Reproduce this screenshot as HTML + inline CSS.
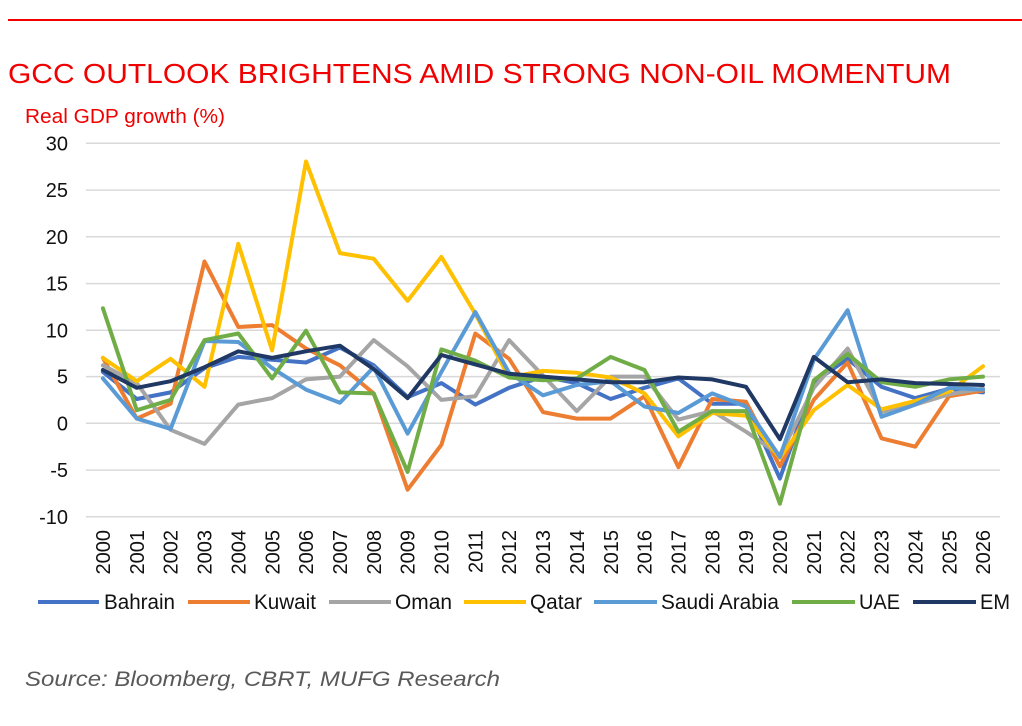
<!DOCTYPE html>
<html>
<head>
<meta charset="utf-8">
<style>
  html, body { margin:0; padding:0; background:#fff; }
  body { width:1022px; height:726px; overflow:hidden; }
  svg { display:block; }
  text { font-family: "Liberation Sans", Arial, sans-serif; }
</style>
</head>
<body>
<svg id="c" width="1022" height="726" viewBox="0 0 1022 726" xmlns="http://www.w3.org/2000/svg">
  <rect x="0" y="0" width="1022" height="726" fill="#ffffff"/>
  <line x1="8" y1="20" x2="1022" y2="20" stroke="#F20000" stroke-width="2"/>
  <text x="8" y="83" font-size="28" fill="#F00000" textLength="943" lengthAdjust="spacingAndGlyphs">GCC OUTLOOK BRIGHTENS AMID STRONG NON-OIL MOMENTUM</text>
  <text x="25" y="123" font-size="20" fill="#F00000" textLength="200" lengthAdjust="spacingAndGlyphs">Real GDP growth (%)</text>

  <g id="grid" stroke="#D9D9D9" stroke-width="1.5">
    <line x1="86" y1="143.3" x2="1000" y2="143.3"/>
    <line x1="86" y1="190.1" x2="1000" y2="190.1"/>
    <line x1="86" y1="236.8" x2="1000" y2="236.8"/>
    <line x1="86" y1="283.6" x2="1000" y2="283.6"/>
    <line x1="86" y1="330.3" x2="1000" y2="330.3"/>
    <line x1="86" y1="376.6" x2="1000" y2="376.6"/>
    <line x1="86" y1="423.3" x2="1000" y2="423.3"/>
    <line x1="86" y1="470.1" x2="1000" y2="470.1"/>
    <line x1="86" y1="516.8" x2="1000" y2="516.8"/>
  </g>

  <g font-size="20" fill="#111" text-anchor="end">
    <text x="68" y="150.3">30</text>
    <text x="68" y="197.1">25</text>
    <text x="68" y="243.8">20</text>
    <text x="68" y="290.6">15</text>
    <text x="68" y="337.3">10</text>
    <text x="68" y="383.6">5</text>
    <text x="68" y="430.3">0</text>
    <text x="68" y="477.1">-5</text>
    <text x="68" y="523.8">-10</text>
  </g>

  <g id="xl" font-size="20" fill="#111" text-anchor="end">
    <text transform="translate(110.0,530) rotate(-90)">2000</text>
    <text transform="translate(143.9,530) rotate(-90)">2001</text>
    <text transform="translate(177.7,530) rotate(-90)">2002</text>
    <text transform="translate(211.6,530) rotate(-90)">2003</text>
    <text transform="translate(245.4,530) rotate(-90)">2004</text>
    <text transform="translate(279.3,530) rotate(-90)">2005</text>
    <text transform="translate(313.1,530) rotate(-90)">2006</text>
    <text transform="translate(347.0,530) rotate(-90)">2007</text>
    <text transform="translate(380.8,530) rotate(-90)">2008</text>
    <text transform="translate(414.7,530) rotate(-90)">2009</text>
    <text transform="translate(448.5,530) rotate(-90)">2010</text>
    <text transform="translate(482.4,530) rotate(-90)">2011</text>
    <text transform="translate(516.2,530) rotate(-90)">2012</text>
    <text transform="translate(550.1,530) rotate(-90)">2013</text>
    <text transform="translate(583.9,530) rotate(-90)">2014</text>
    <text transform="translate(617.8,530) rotate(-90)">2015</text>
    <text transform="translate(651.6,530) rotate(-90)">2016</text>
    <text transform="translate(685.5,530) rotate(-90)">2017</text>
    <text transform="translate(719.3,530) rotate(-90)">2018</text>
    <text transform="translate(753.2,530) rotate(-90)">2019</text>
    <text transform="translate(787.0,530) rotate(-90)">2020</text>
    <text transform="translate(820.9,530) rotate(-90)">2021</text>
    <text transform="translate(854.7,530) rotate(-90)">2022</text>
    <text transform="translate(888.6,530) rotate(-90)">2023</text>
    <text transform="translate(922.4,530) rotate(-90)">2024</text>
    <text transform="translate(956.3,530) rotate(-90)">2025</text>
    <text transform="translate(990.1,530) rotate(-90)">2026</text>
  </g>

  <g id="series" fill="none" stroke-width="4" stroke-linejoin="round" stroke-linecap="round"></g>

  <g stroke-width="4">
    <line x1="38" y1="602" x2="99" y2="602" stroke="#4472C4"/>
    <line x1="188" y1="602" x2="250" y2="602" stroke="#ED7D31"/>
    <line x1="329" y1="602" x2="391" y2="602" stroke="#A5A5A5"/>
    <line x1="464" y1="602" x2="526" y2="602" stroke="#FFC000"/>
    <line x1="594" y1="602" x2="657" y2="602" stroke="#5B9BD5"/>
    <line x1="792" y1="602" x2="855" y2="602" stroke="#70AD47"/>
    <line x1="913" y1="602" x2="976" y2="602" stroke="#203864"/>
  </g>
  <g font-size="21" fill="#111">
    <text x="104" y="609" textLength="71" lengthAdjust="spacingAndGlyphs">Bahrain</text>
    <text x="254" y="609" textLength="62" lengthAdjust="spacingAndGlyphs">Kuwait</text>
    <text x="395" y="609" textLength="57" lengthAdjust="spacingAndGlyphs">Oman</text>
    <text x="530" y="609" textLength="52" lengthAdjust="spacingAndGlyphs">Qatar</text>
    <text x="661" y="609" textLength="118" lengthAdjust="spacingAndGlyphs">Saudi Arabia</text>
    <text x="859" y="609" textLength="41" lengthAdjust="spacingAndGlyphs">UAE</text>
    <text x="980" y="609" textLength="30" lengthAdjust="spacingAndGlyphs">EM</text>
  </g>

  <text x="25" y="686" font-size="21" font-style="italic" fill="#595959" textLength="475" lengthAdjust="spacingAndGlyphs">Source: Bloomberg, CBRT, MUFG Research</text>
</svg>
<script>
(function(){
  var data = [
    ["#4472C4",[5.5,2.6,3.3,5.9,7.1,6.8,6.5,8.1,6.2,2.8,4.3,2.0,3.8,5.0,4.3,2.6,3.8,4.8,2.1,2.1,-5.9,4.4,6.9,3.9,2.7,3.7,3.3]],
    ["#ED7D31",[7.0,0.5,2.1,17.3,10.3,10.5,8.0,6.2,3.2,-7.1,-2.3,9.6,6.9,1.2,0.5,0.5,2.9,-4.7,2.6,2.3,-4.6,2.5,6.5,-1.6,-2.5,2.9,3.5]],
    ["#A5A5A5",[6.2,4.3,-0.7,-2.2,2.0,2.7,4.7,5.0,8.9,6.1,2.5,2.9,8.9,5.1,1.3,5.0,5.0,0.4,1.3,-0.9,-3.4,3.8,8.0,1.2,2.0,3.1,3.7]],
    ["#FFC000",[7.0,4.5,6.9,3.9,19.2,7.8,28.0,18.2,17.6,13.1,17.8,11.7,4.9,5.6,5.4,4.9,3.2,-1.4,1.1,0.8,-3.7,1.4,4.1,1.5,2.4,3.4,6.1]],
    ["#5B9BD5",[4.8,0.5,-0.6,8.8,8.7,5.9,3.6,2.2,6.0,-1.1,5.5,11.9,5.4,3.0,4.1,4.5,1.8,1.1,3.2,1.8,-3.6,6.8,12.1,0.7,2.0,3.8,3.6]],
    ["#70AD47",[12.3,1.4,2.5,8.9,9.6,4.8,9.9,3.3,3.2,-5.2,7.9,6.7,4.9,4.6,4.8,7.1,5.7,-0.9,1.3,1.3,-8.6,4.6,7.4,4.4,3.9,4.7,5.0]],
    ["#203864",[5.7,3.8,4.5,6.0,7.7,7.0,7.7,8.3,5.8,2.7,7.3,6.3,5.3,5.0,4.7,4.4,4.4,4.9,4.7,3.9,-1.7,7.1,4.4,4.7,4.3,4.2,4.1]]
  ];
  var g = document.getElementById("series");
  var ns = "http://www.w3.org/2000/svg";
  data.forEach(function(s){
    var pts = s[1].map(function(v,i){
      var x = 102.9 + 33.85*i;
      var y = 423.3 - 9.35*v;
      return x.toFixed(1)+","+y.toFixed(1);
    }).join(" ");
    var p = document.createElementNS(ns,"polyline");
    p.setAttribute("points",pts);
    p.setAttribute("stroke",s[0]);
    g.appendChild(p);
  });
})();
</script>
</body>
</html>
